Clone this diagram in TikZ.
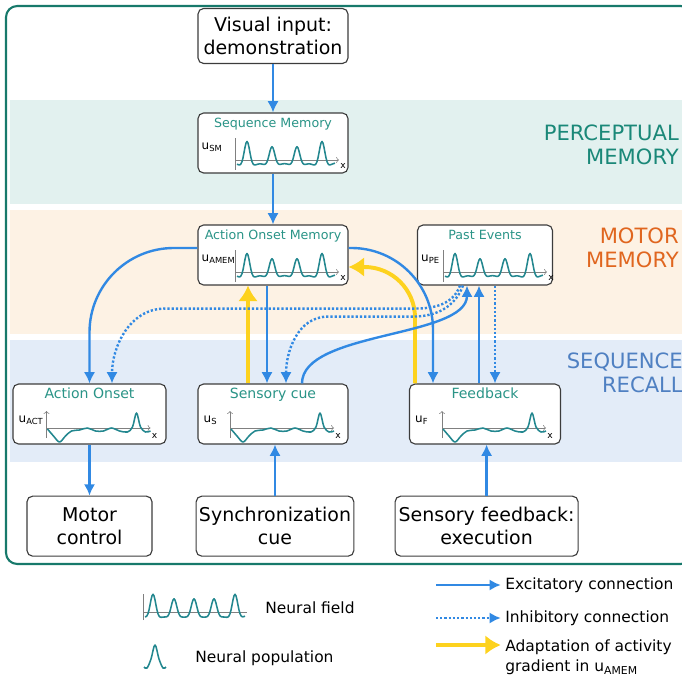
\documentclass[tikz,border=0pt]{standalone}
\usepackage{fontspec}
\setmainfont{DejaVu Sans}
\usetikzlibrary
  {
    arrows.meta,   % arrow heads
    calc,          % offsets from anchors
    positioning,   % place nodes relative to other nodes
  }

\begin{document}
\begin{tikzpicture}
    [
      x=0.025cm, y=0.025cm,
      % Styles
      box/.style={draw=boxgray, line width=0.8pt, rounded corners=4pt, fill=white, align=center, inner sep=2pt},
      field box/.style={box, minimum width=3.75cm, minimum height=1.5cm},
      big text/.style={font=\fontsize{13.5}{16.4}\selectfont},
      mem title/.style={font=\fontsize{9}{10}\selectfont, text=titleteal, inner sep=0pt},
      recall title/.style={mem title, font=\fontsize{10}{11}\selectfont},
      u label/.style={font=\fontsize{8.5}{9}\selectfont, inner sep=0pt, anchor=west},
      x label/.style={font=\fontsize{6.5}{7}\selectfont, inner sep=0pt},
      axis line/.style={draw=axisgray, line width=0.4pt},
      field curve/.style={draw=curveteal, line width=1.1pt, line join=round},
      band label/.style={font=\fontsize{15}{17.5}\selectfont, align=right, anchor=east, inner sep=0pt},
      excite/.style={draw=arrowblue, line width=1.7pt, -{Latex[length=8pt, width=8pt]}},
      inhibit/.style={excite, dash pattern=on 1.6pt off 1.4pt},
      adapt/.style={draw=adaptyellow, line width=2.8pt, -{Latex[length=11pt, width=14pt]}},
      legend text/.style={font=\fontsize{11}{14.5}\selectfont, anchor=west, align=left, inner sep=0pt},
      % bump with a weak inhibitory surround
      declare function={pk(\t)=exp(-min(\t*\t/16,25)) - 0.25*exp(-min(\t*\t/72,25));}
    ]

    % Colors
    \definecolor{frameteal}{HTML}{17796B}
    \definecolor{percband}{HTML}{E2F1EF}
    \definecolor{motorband}{HTML}{FDF2E4}
    \definecolor{recallband}{HTML}{E3ECF8}
    \definecolor{perctext}{HTML}{1A8878}
    \definecolor{motortext}{HTML}{E0661F}
    \definecolor{recalltext}{HTML}{4F80C2}
    \definecolor{boxgray}{HTML}{3C3C3C}
    \definecolor{titleteal}{HTML}{2A9487}
    \definecolor{curveteal}{HTML}{23878F}
    \definecolor{axisgray}{HTML}{808080}
    \definecolor{arrowblue}{HTML}{3189E3}
    \definecolor{adaptyellow}{HTML}{FDD21E}

    \useasboundingbox (0,0) rectangle (682,679);

    % frame and bands
    \draw [frameteal, line width=1.5pt, rounded corners=8pt] (6,115) rectangle (692,673);
    \fill [percband] (10,475) rectangle (682,579);
    \fill [motorband] (10,345) rectangle (682,469);
    \fill [recallband] (10,217) rectangle (682,339);

    \node [band label, text=perctext] (perc label) at (679,534) {PERCEPTUAL\\MEMORY};
    \node [band label, text=motortext] (motor label) at (679,431) {MOTOR\\MEMORY};
    \node [band label, text=recalltext] (recall label) at (683,306) {SEQUENCE\\RECALL};

    % boxes
    \node [box, big text, minimum width=3.75cm, minimum height=1.375cm] (visual) at (273,643) {Visual input:\\demonstration};
    \node [field box] (seqmem) at (273,536) {};
    \node [field box] (onsetmem) at (273,424) {};
    \node [field box, minimum width=3.375cm] (past) at (485,424) {};
    \node [field box, minimum width=3.825cm] (onset) at (89.5,265) {};
    \node [field box] (cue) at (273,265) {};
    \node [field box, minimum width=3.775cm] (feedback) at (485,265) {};
    \node [box, big text, minimum width=3.125cm, minimum height=1.5cm, below=1.275cm of onset] (motor) {Motor\\control};
    \node [box, big text, minimum width=3.925cm, minimum height=1.5cm, below=1.275cm of cue, xshift=0.05cm] (sync) {Synchronization\\cue};
    \node [box, big text, minimum width=4.575cm, minimum height=1.5cm, below=1.275cm of feedback, xshift=0.04cm] (sensfb) {Sensory feedback:\\execution};

    % neural fields in the memory boxes
    \foreach \fld/\ulab/\dx/\ttl in {seqmem/SM/-38/Sequence Memory, onsetmem/AMEM/-38/Action Onset Memory, past/PE/-42/Past Events}
    {
      \node [mem title, below=4pt of \fld.north] (\fld-title) {\ttl};
      \node [u label] (\fld-u) at ($(\fld.west)+(4,-4)$) {u\textsubscript{\ulab}};
      \begin{scope}[shift={($(\fld.center)+(\dx,-17)$)}]
        \draw [axis line] (0,-10) -- (0,22);
        \draw [axis line, -{To[length=2pt]}] (0,0) -- (104,0);
        \draw [field curve] plot [domain=2:100, samples=99]
          (\x, {-2.5 + 28*pk(\x-12) + 21*pk(\x-37) + 21*pk(\x-62) + 28*pk(\x-87)});
        \node [x label] (\fld-x) at (108,-6) {x};
      \end{scope}
    }

    % neural fields in the recall boxes
    \foreach \fld/\ulab/\ttl in {onset/ACT/Action Onset, cue/S/Sensory cue, feedback/F/Feedback}
    {
      \node [recall title, below=3pt of \fld.north] (\fld-title) {\ttl};
      \node [u label] (\fld-u) at ($(\fld.west)+(6,-6)$) {u\textsubscript{\ulab}};
      \begin{scope}[shift={($(\fld.center)+(-43,-14)$)}]
        \draw [axis line, -{To[length=2pt]}] (0,-10) -- (0,17);
        \draw [axis line, -{To[length=2pt]}] (0,0) -- (104,0);
        \draw [field curve] plot [smooth, tension=0.55] coordinates
          {(1,-1) (7,-8) (13,-14) (19,-8) (25,-3) (33,-2) (41,0) (49,-3) (57,-3)
           (65,0) (73,-3) (81,-4) (86,1) (90,15) (94,1) (99,-4) (104,-3)};
        \node [x label] (\fld-x) at (108,-8) {x};
      \end{scope}
    }

    % connections
    \draw [adapt, rounded corners=36pt] ($(feedback.north)+(-70,0)$) |- ($(onsetmem.east)+(0,-12)$);
    \draw [adapt] ($(cue.north)+(-25,0)$) -- ($(onsetmem.south)+(-25,0)$);

    \draw [excite] (visual) -- (seqmem);
    \draw [excite] (seqmem) -- (onsetmem);
    \draw [excite, rounded corners=60pt] ($(onsetmem.west)+(0,7)$) -| (onset.north);
    \draw [excite, rounded corners=58pt] ($(onsetmem.east)+(0,7)$) -| ($(feedback.north)+(-52,0)$);
    \draw [excite] ($(onsetmem.south)+(-6,0)$) -- ($(cue.north)+(-6,0)$);
    \draw [inhibit] ($(past.south)+(-25,0)$) to [out=-110, in=0] ++(-45,-23) -- ++(-250,0)
      to [out=180, in=90] ($(onset.north)+(22.5,0)$);
    \draw [inhibit] ($(past.south)+(-22,0)$) to [out=-110, in=0] ++(-50,-31) -- ++(-85,0)
      to [out=180, in=90] ($(cue.north)+(13,0)$);
    \draw [excite] ($(cue.north)+(29,0)$) to [out=90, in=-90, looseness=0.7] ($(past.south)+(-18,0)$);
    \draw [excite] ($(feedback.north)+(-6,0)$) -- ($(past.south)+(-6,0)$);
    \draw [inhibit] ($(past.south)+(10,0)$) -- ($(feedback.north)+(10,0)$);
    \draw [excite] (onset) -- (motor);
    \draw [excite] (sync.north) -- (sync.north |- cue.south);
    \draw [excite] (sensfb.north) -- (sensfb.north |- feedback.south);

    % legend
    \begin{scope}[shift={(143,67)}]
      \draw [axis line] (0,-8) -- (0,18);
      \draw [axis line] (0,0) -- (104,0);
      \draw [field curve] plot [domain=2:102, samples=101]
        (\x, {-2.5 + 27*pk(\x-10) + 21*pk(\x-31) + 21*pk(\x-51) + 21*pk(\x-71) + 27*pk(\x-92)});
    \end{scope}
    \node [legend text] (field text) at (265,71) {Neural field};
    \draw [field curve] plot [smooth, tension=0.6] coordinates
      {(144,12) (147,11) (151,20) (155,34) (159,20) (163,11) (166,12)};
    \node [legend text] (pop text) at (195,21) {Neural population};

    \node [legend text] (exc text) at (505,94) {Excitatory connection};
    \node [legend text] (inh text) at (505,61) {Inhibitory connection};
    \node [legend text] (adapt text) at (505,22) {Adaptation of activity\\gradient in u\textsubscript{AMEM}};
    \coordinate (exc start) at (436,94);
    \coordinate (inh start) at (436,61);
    \coordinate (adapt start) at (436,34);
    \draw [excite, shorten >=3pt] (exc start) -- (exc text.west);
    \draw [inhibit, shorten >=3pt] (inh start) -- (inh text.west);
    \draw [adapt, shorten >=3pt] (adapt start) -- (adapt start -| adapt text.west);
\end{tikzpicture}
\end{document}
